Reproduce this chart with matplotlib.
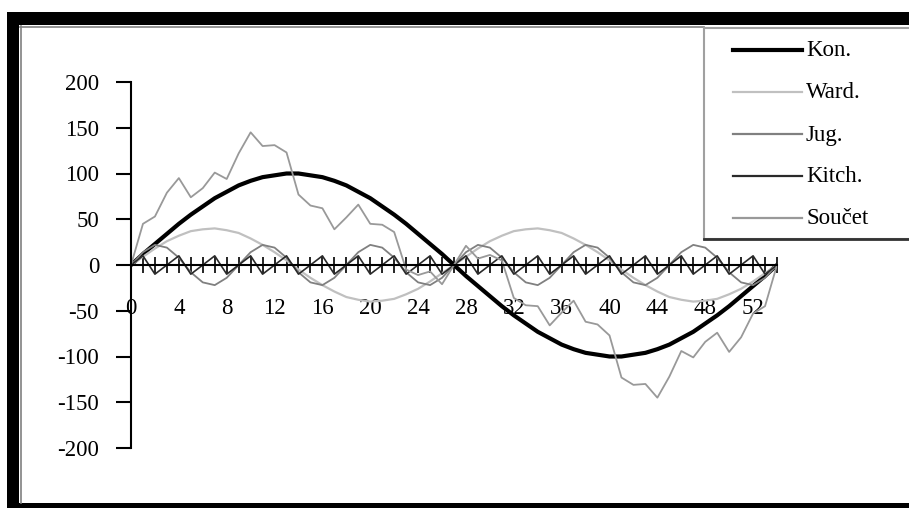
import matplotlib
matplotlib.use('Agg')
import matplotlib.pyplot as plt
from matplotlib.patches import Rectangle
from matplotlib.lines import Line2D

plt.rcParams['font.family'] = ['Liberation Serif', 'DejaVu Serif']
plt.rcParams['axes.unicode_minus'] = False

# years 0..54
years = list(range(55))
x_labels = ['0', '', '', '', '4', '', '', '', '8', '', '', '', '12', '', '', '', '16', '', '', '',
            '20', '', '', '', '24', '', '', '', '28', '', '', '', '32', '', '', '', '36', '', '', '',
            '40', '', '', '', '44', '', '', '', '48', '', '', '', '52', '', '']
y_ticks = [-200, -150, -100, -50, 0, 50, 100, 150, 200]

kon = [0, 12, 23, 34, 45, 55, 64, 73, 80, 87, 92, 96, 98, 100, 100, 98, 96, 92, 87, 80,
       73, 64, 55, 45, 34, 23, 12, 0, -12, -23, -34, -45, -55, -64, -73, -80, -87, -92, -96, -98,
       -100, -100, -98, -96, -92, -87, -80, -73, -64, -55, -45, -34, -23, -12, 0]
ward = [0, 9, 18, 26, 32, 37, 39, 40, 38, 35, 29, 22, 14, 5, -5, -14, -22, -29, -35, -38,
        -40, -39, -37, -32, -26, -18, -9, 0, 9, 18, 26, 32, 37, 39, 40, 38, 35, 29, 22, 14,
        5, -5, -14, -22, -29, -35, -38, -40, -39, -37, -32, -26, -18, -9, 0]
jug = [0, 14, 22, 19, 8, -8, -19, -22, -14, 0, 14, 22, 19, 8, -8, -19, -22, -14,
       0, 14, 22, 19, 8, -8, -19, -22, -14, 0, 14, 22, 19, 8, -8, -19, -22, -14,
       0, 14, 22, 19, 8, -8, -19, -22, -14, 0, 14, 22, 19, 8, -8, -19, -22, -14, 0]
kitch = [0, 10, -10, 0, 10, -10, 0, 10, -10, 0, 10, -10, 0, 10, -10, 0, 10, -10,
         0, 10, -10, 0, 10, -10, 0, 10, -10, 0, 10, -10, 0, 10, -10, 0, 10, -10,
         0, 10, -10, 0, 10, -10, 0, 10, -10, 0, 10, -10, 0, 10, -10, 0, 10, -10, 0]
soucet = [0, 45, 53, 79, 95, 74, 84, 101, 94, 122, 145, 130, 131, 123, 77, 65, 62, 39, 52, 66,
          45, 44, 36, -5, -11, -7, -21, 0, 21, 7, 11, 5, -36, -44, -45, -66, -52, -39, -62, -65,
          -77, -123, -131, -130, -145, -122, -94, -101, -84, -74, -95, -79, -53, -45, 0]

names = ['Kon.', 'Ward.', 'Jug.', 'Kitch.', 'Součet']
series = [kon, ward, jug, kitch, soucet]
colors = ['black', '#c0c0c0', '#808080', '#2a2a2a', '#999999']
widths = [3.0, 1.6, 1.3, 1.2, 1.3]

W, H = 909, 508
fig = plt.figure(figsize=(W / 100, H / 100), dpi=100)
fig.patch.set_facecolor('white')

ax = fig.add_axes([131 / W, (H - 448) / H, 646 / W, 366 / H])
for vals, c, lw in zip(series, colors, widths):
    ax.plot(years, vals, color=c, lw=lw, solid_joinstyle='round')

ax.set_xlim(0, 54)
ax.set_ylim(-200, 200)
ax.spines['top'].set_visible(False)
ax.spines['right'].set_visible(False)
ax.spines['bottom'].set_position(('data', 0))
ax.spines['bottom'].set_linewidth(1.5)
ax.spines['left'].set_linewidth(1.5)

ax.set_xticks(years)
ax.set_xticklabels(x_labels)
ax.tick_params(axis='x', direction='inout', length=12, width=1.2, pad=18, labelsize=16.5)
ax.set_yticks(y_ticks)
ax.tick_params(axis='y', direction='out', length=11, width=1.5, pad=12, labelsize=16.5)


def fx(x):
    return x / W


def fy(y):
    return 1 - y / H


# black frame of the chart (right side is cut off)
fig.add_artist(Rectangle((fx(7), fy(25)), 1, 13 / H, facecolor='black', edgecolor='none'))
fig.add_artist(Rectangle((fx(7), 0), 12 / W, fy(12), facecolor='black', edgecolor='none'))
fig.add_artist(Rectangle((fx(7), 0), 1, 5 / H, facecolor='black', edgecolor='none'))
fig.add_artist(Line2D([fx(20.5), fx(20.5)], [fy(26), fy(503)], color='#808080', lw=1.2))
fig.add_artist(Line2D([fx(20), fx(704)], [fy(26.5), fy(26.5)], color='#808080', lw=1.2))

# legend box
fig.add_artist(Rectangle((fx(704), fy(239)), (915 - 704) / W, (239 - 28) / H,
                         facecolor='white', edgecolor='#a0a0a0', lw=1.5, zorder=5))
fig.add_artist(Line2D([fx(704), 1], [fy(239), fy(239)], color='#333333', lw=2, zorder=6))
for i, (name, c, lw) in enumerate(zip(names, colors, widths)):
    y = 50 + i * 42
    fig.add_artist(Line2D([fx(733), fx(802)], [fy(y), fy(y)], color=c,
                          lw=max(lw, 1.6), zorder=6))
    fig.text(fx(806), fy(y + 1), name, fontsize=16.5, va='center', ha='left', zorder=7)

fig.savefig('out.png', dpi=100)
